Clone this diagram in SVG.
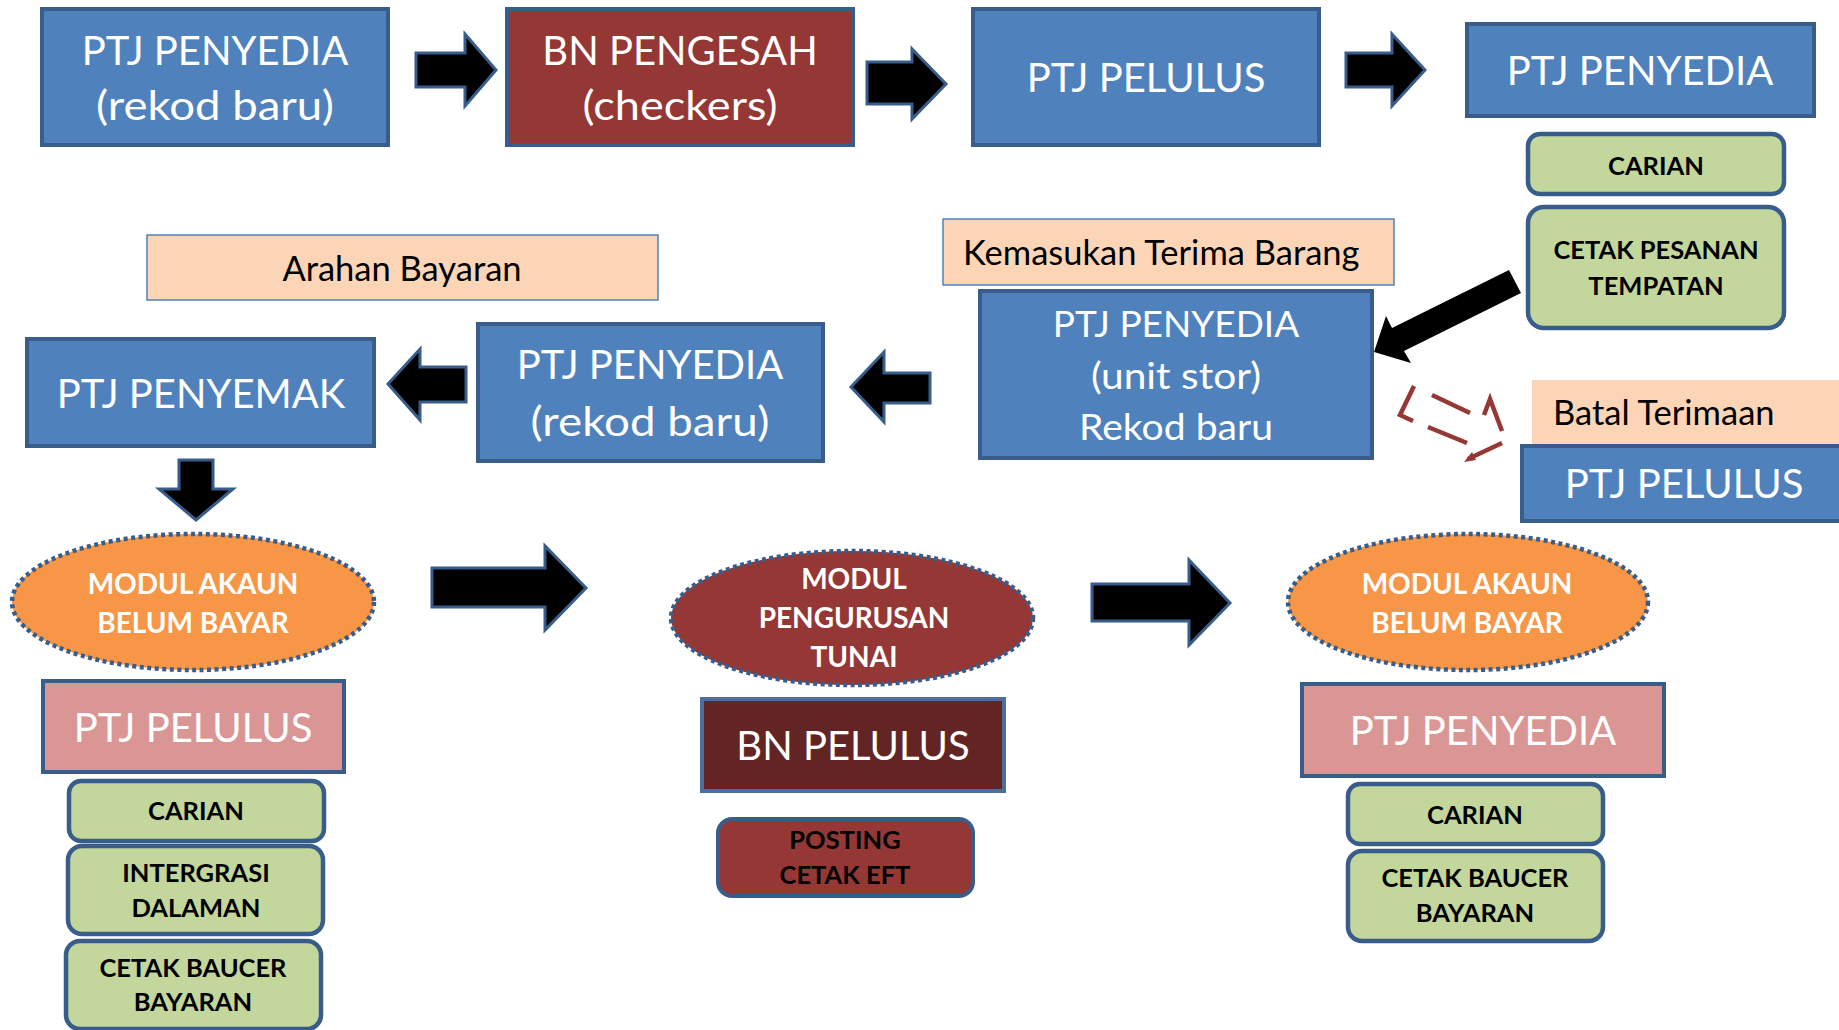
<svg xmlns="http://www.w3.org/2000/svg" width="1839" height="1030" viewBox="0 0 1839 1030">
<style>
.bl{fill:#4F81BD;stroke:#385D8A;stroke-width:4}
.rd{fill:#953735;stroke:#385D8A;stroke-width:4}
.mr{fill:#632523;stroke:#4A6FA0;stroke-width:4}
.pk{fill:#D99694;stroke:#385D8A;stroke-width:4}
.gr{fill:#C3D69B;stroke:#385D8A;stroke-width:4.5}
.pe{fill:#FBD5B5;stroke:#4F81BD;stroke-width:1.5}
.el{stroke:#385D8A;stroke-width:4.5;stroke-dasharray:4 3.5}
.ar{fill:#000;stroke:#385D8A;stroke-width:3;stroke-linejoin:miter}
.wt{font-family:Lato,'Open Sans','Liberation Sans',sans-serif;fill:#fff;text-anchor:middle;font-size:40px}
.wb{font-family:Lato,'Open Sans','Liberation Sans',sans-serif;fill:#fff;text-anchor:middle;font-size:28px;font-weight:bold}
.kb{font-family:Lato,'Open Sans','Liberation Sans',sans-serif;fill:#000;text-anchor:middle;font-size:25.5px;font-weight:bold}
.kt{font-family:Lato,'Open Sans','Liberation Sans',sans-serif;fill:#000;font-size:34.5px}
.dr{fill:none;stroke:#953735;stroke-width:4.5;stroke-linecap:butt}
</style>
<g id="n-ptj-penyedia-rekod">
<rect class="bl" x="42" y="9" width="346" height="136"/>
<text class="wt" x="215" y="65">PTJ PENYEDIA</text>
<text class="wt" x="215" y="120" textLength="238" lengthAdjust="spacingAndGlyphs">(rekod baru)</text>
</g>
<g id="n-bn-pengesah">
<rect class="rd" x="507" y="9" width="346" height="136"/>
<text class="wt" x="680" y="65">BN PENGESAH</text>
<text class="wt" x="680" y="120" textLength="195" lengthAdjust="spacingAndGlyphs">(checkers)</text>
</g>
<g id="n-ptj-pelulus-top">
<rect class="bl" x="973" y="9" width="346" height="136"/>
<text class="wt" x="1146" y="92">PTJ PELULUS</text>
</g>
<g id="n-ptj-penyedia-top">
<rect class="bl" x="1467" y="24" width="347" height="92"/>
<text class="wt" x="1640" y="85">PTJ PENYEDIA</text>
</g>
<g id="n-carian-top">
<rect class="gr" x="1528" y="134" width="256" height="60" rx="12"/>
<text class="kb" x="1656" y="175">CARIAN</text>
</g>
<g id="n-cetak-pesanan">
<rect class="gr" x="1528" y="207" width="256" height="121" rx="16"/>
<text class="kb" x="1656" y="259">CETAK PESANAN</text>
<text class="kb" x="1656" y="295">TEMPATAN</text>
</g>
<g id="n-kemasukan">
<rect class="pe" x="943" y="219" width="451" height="66"/>
<text class="kt" x="963" y="265">Kemasukan Terima Barang</text>
</g>
<g id="n-ptj-penyedia-unitstor">
<rect class="bl" x="980" y="291" width="392" height="167"/>
<text class="wt" x="1176" y="337" style="font-size:37px">PTJ PENYEDIA</text>
<text class="wt" x="1176" y="389" style="font-size:37px" textLength="170" lengthAdjust="spacingAndGlyphs">(unit stor)</text>
<text class="wt" x="1176" y="440" style="font-size:37px" textLength="194" lengthAdjust="spacingAndGlyphs">Rekod baru</text>
</g>
<g id="n-batal">
<rect x="1532" y="380" width="320" height="70" fill="#FBD5B5"/>
<text class="kt" x="1553" y="425">Batal Terimaan</text>
</g>
<g id="n-ptj-pelulus-right">
<rect class="bl" x="1522" y="446" width="330" height="75"/>
<text class="wt" x="1684" y="498">PTJ PELULUS</text>
</g>
<g id="n-arahan">
<rect class="pe" x="147" y="235" width="511" height="65"/>
<text class="kt" x="402" y="281" text-anchor="middle">Arahan Bayaran</text>
</g>
<g id="n-ptj-penyemak">
<rect class="bl" x="27" y="339" width="347" height="107"/>
<text class="wt" x="201" y="408">PTJ PENYEMAK</text>
</g>
<g id="n-ptj-penyedia-mid">
<rect class="bl" x="478" y="324" width="345" height="137"/>
<text class="wt" x="650" y="379">PTJ PENYEDIA</text>
<text class="wt" x="650" y="436" textLength="239" lengthAdjust="spacingAndGlyphs">(rekod baru)</text>
</g>
<g id="n-modul-akaun-left">
<ellipse class="el" cx="193" cy="602" rx="181" ry="68" fill="#F79646"/>
<text class="wb" x="193" y="594">MODUL AKAUN</text>
<text class="wb" x="193" y="633">BELUM BAYAR</text>
</g>
<g id="n-ptj-pelulus-pink">
<rect class="pk" x="43" y="681" width="301" height="91"/>
<text class="wt" x="193" y="742">PTJ PELULUS</text>
</g>
<g id="n-carian-left">
<rect class="gr" x="69" y="781" width="255" height="60" rx="12"/>
<text class="kb" x="196" y="820">CARIAN</text>
</g>
<g id="n-intergrasi">
<rect class="gr" x="68" y="846" width="255" height="88" rx="14"/>
<text class="kb" x="196" y="882">INTERGRASI</text>
<text class="kb" x="196" y="917">DALAMAN</text>
</g>
<g id="n-cetak-baucer-left">
<rect class="gr" x="66" y="941" width="255" height="88" rx="14"/>
<text class="kb" x="193" y="977">CETAK BAUCER</text>
<text class="kb" x="193" y="1011">BAYARAN</text>
</g>
<g id="n-modul-tunai">
<ellipse class="el" cx="852" cy="618" rx="181" ry="67" fill="#953735"/>
<text class="wb" x="854" y="589">MODUL</text>
<text class="wb" x="854" y="628">PENGURUSAN</text>
<text class="wb" x="854" y="667">TUNAI</text>
</g>
<g id="n-bn-pelulus">
<rect class="mr" x="702" y="699" width="302" height="92"/>
<text class="wt" x="853" y="760">BN PELULUS</text>
</g>
<g id="n-posting">
<rect class="rd" x="718" y="819" width="255" height="77" rx="14"/>
<text class="kb" x="845" y="849">POSTING</text>
<text class="kb" x="845" y="884">CETAK EFT</text>
</g>
<g id="n-modul-akaun-right">
<ellipse class="el" cx="1468" cy="602" rx="180" ry="68" fill="#F79646"/>
<text class="wb" x="1467" y="594">MODUL AKAUN</text>
<text class="wb" x="1467" y="633">BELUM BAYAR</text>
</g>
<g id="n-ptj-penyedia-pink">
<rect class="pk" x="1302" y="684" width="362" height="92"/>
<text class="wt" x="1483" y="745">PTJ PENYEDIA</text>
</g>
<g id="n-carian-right">
<rect class="gr" x="1348" y="784" width="255" height="60" rx="12"/>
<text class="kb" x="1475" y="824">CARIAN</text>
</g>
<g id="n-cetak-baucer-right">
<rect class="gr" x="1348" y="851" width="255" height="90" rx="14"/>
<text class="kb" x="1475" y="887">CETAK BAUCER</text>
<text class="kb" x="1475" y="922">BAYARAN</text>
</g>
<g id="connectors">
<polygon class="ar" points="416,53 465,53 465,34 496,70 465,106 465,87 416,87"/>
<polygon class="ar" points="867,62 912,62 912,49 946,84 912,119 912,104 867,104"/>
<polygon class="ar" points="1346,53 1392,53 1392,34 1425,70 1392,106 1392,87 1346,87"/>
<polygon class="ar" points="466,367 420,367 420,349 388,384 420,420 420,402 466,402"/>
<polygon class="ar" points="930,373 884,373 884,352 851,387 884,422 884,403 930,403"/>
<polygon class="ar" points="179,460 213,460 213,489 233,489 196,520 159,489 179,489"/>
<polygon class="ar" points="432,568 545,568 545,546 586,588 545,630 545,607 432,607"/>
<polygon class="ar" points="1092,584 1189,584 1189,560 1230,603 1189,645 1189,621 1092,621"/>
<polygon fill="#000" points="1509,270 1392,328 1386,316 1374,352 1411,363 1404,351 1521,293"/>
<polyline class="dr" points="1414,386 1400,415 1413,421"/>
<line class="dr" x1="1432" y1="395" x2="1470" y2="413"/>
<line class="dr" x1="1428" y1="427" x2="1467" y2="443"/>
<polyline class="dr" points="1484,415 1490,399 1502,431"/>
<line class="dr" x1="1502" y1="443" x2="1468" y2="459"/>
<polygon fill="#953735" points="1464,462 1472,452 1476,460"/>
</g>
</svg>
